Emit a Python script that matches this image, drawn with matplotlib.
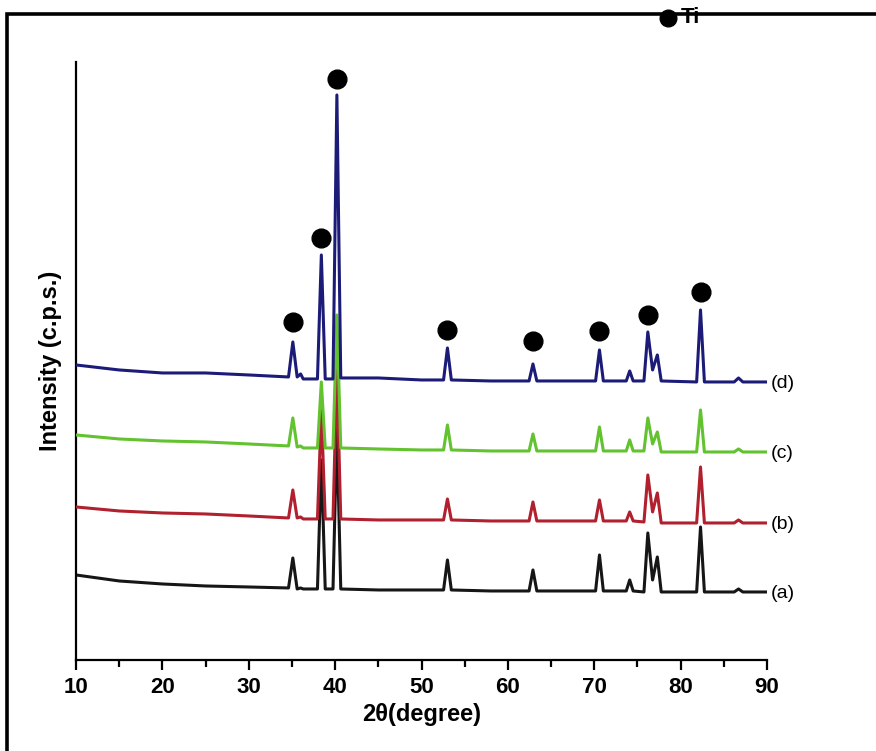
import numpy as np
import matplotlib.pyplot as plt
from matplotlib.patches import Rectangle

plt.rcParams['font.family'] = ['Liberation Sans Narrow', 'Liberation Sans', 'DejaVu Sans']

# vertex positions of the patterns (2theta, degree)
two_theta = [10, 15, 20, 25, 30, 34.6, 35.1, 35.6, 36.0, 36.3,
             37.95, 38.4, 38.85, 39.75, 40.2, 40.65, 45, 50,
             52.55, 53.0, 53.45, 58, 62.45, 62.9, 63.35,
             70.15, 70.6, 71.05, 73.7, 74.1, 74.5,
             75.75, 76.2, 76.75, 77.3, 77.75,
             81.85, 82.3, 82.75, 86.2, 86.7, 87.2, 90]

# intensity (c.p.s., stacked)
int_d = [295, 290, 287, 287, 285, 283, 318, 283, 286, 281,
         281, 405, 281, 281, 565, 282, 282, 280,
         280, 312, 280, 279, 279, 296, 279,
         279, 310, 279, 279, 289, 279,
         279, 328, 290, 305, 279,
         278, 350, 278, 278, 282, 278, 278]
int_c = [225, 221, 219, 218, 216, 214, 242, 213, 214, 212,
         212, 278, 212, 212, 345, 212, 211, 210,
         210, 235, 210, 209, 209, 226, 209,
         209, 233, 209, 209, 220, 209,
         209, 242, 216, 228, 208,
         208, 250, 208, 208, 211, 208, 208]
int_b = [153, 149, 147, 146, 144, 142, 170, 142, 143, 141,
         141, 250, 141, 141, 290, 141, 140, 140,
         140, 161, 140, 139, 139, 158, 139,
         139, 160, 139, 139, 148, 139,
         138, 185, 148, 167, 137,
         137, 193, 137, 137, 140, 137, 137]
int_a = [85, 79, 76, 74, 73, 72, 102, 71, 72, 71,
         71, 200, 71, 71, 230, 71, 70, 70,
         70, 100, 70, 69, 69, 90, 69,
         69, 105, 69, 69, 80, 69,
         68, 127, 80, 103, 68,
         68, 133, 68, 68, 71, 68, 68]

curve_names = ['(a)', '(b)', '(c)', '(d)']
curve_colors = ['#161616', '#b0202e', '#62c230', '#1c1c78']

# Ti markers
ti_pos = [35.1, 38.4, 40.2, 53.0, 62.9, 70.6, 76.2, 82.3]
ti_int = [338, 422, 581, 330, 319, 329, 345, 368]

fig = plt.figure(figsize=(8.76, 7.51), dpi=100)
ax = fig.add_axes([0.0868, 0.1212, 0.7888, 0.7963])

for i, ys in enumerate([int_a, int_b, int_c, int_d]):
    ax.plot(two_theta, ys, color=curve_colors[i], lw=2.2, zorder=2 + i)
    ax.text(90.4, ys[-1] - 2, curve_names[i], fontsize=14, va='center', ha='left',
            clip_on=False, family=['Liberation Sans', 'DejaVu Sans'])

ax.plot(ti_pos, ti_int, 'o', color='black', ms=13.5, zorder=10, clip_on=False)

# legend at the top
ax.plot([78.5], [642], 'o', color='black', ms=12, clip_on=False)
ax.text(80.0, 642, 'Ti', fontsize=16, fontweight='bold', va='center', ha='left', clip_on=False,
        family=['Liberation Sans', 'DejaVu Sans'])

ax.set_xlim(10, 90)
ax.set_ylim(0, 598)
ax.set_xticks(range(10, 91, 10))
ax.set_xticks(range(15, 90, 10), minor=True)
ax.set_yticks([])
for s in ['top', 'right']:
    ax.spines[s].set_visible(False)
for s in ['left', 'bottom']:
    ax.spines[s].set_linewidth(1.6)
ax.tick_params(axis='x', which='major', direction='out', length=7, width=1.6, labelsize=16, pad=5)
ax.tick_params(axis='x', which='minor', direction='out', length=5, width=1.6)
for lab in ax.get_xticklabels():
    lab.set_fontweight('bold')

ax.set_xlabel('2θ(degree)', fontsize=17, fontweight='bold', labelpad=4)
ax.set_ylabel('Intensity (c.p.s.)', fontsize=17, fontweight='bold', labelpad=10)

# outer frame
fig.patches.append(Rectangle((0.0075, -0.05), 1.2, 0.05 + 0.982, transform=fig.transFigure,
                             fill=False, lw=2.6, edgecolor='black'))

plt.savefig('out.png', dpi=100)
